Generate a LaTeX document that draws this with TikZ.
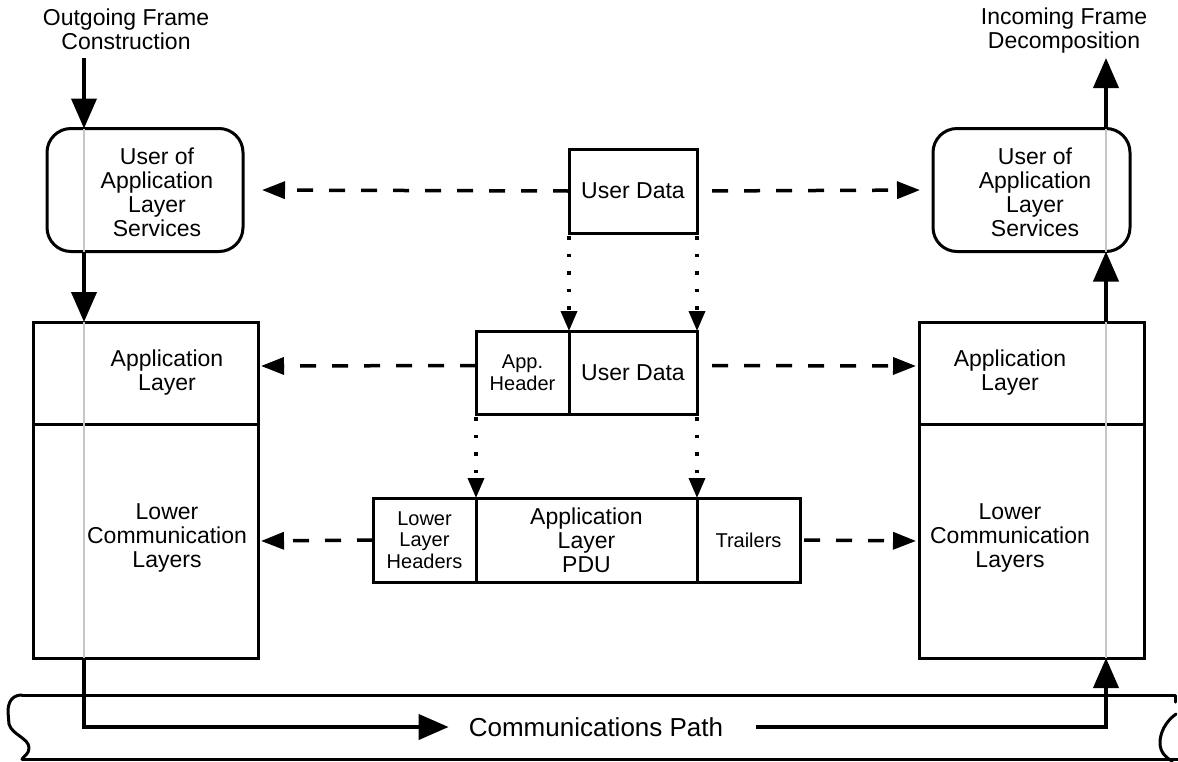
\documentclass[tikz,border=0pt]{standalone}
\usepackage{fontspec}
\setmainfont{Liberation Sans}
\usetikzlibrary{calc,arrows.meta}
\tikzset{
  box/.style={draw, line width=3pt, inner sep=0pt, outer sep=0pt},
  rbox/.style={box, rounded corners=24pt},
  lab/.style={font=\fontsize{23}{24}\selectfont, align=center, inner sep=0pt},
  labs/.style={font=\fontsize{20}{21.5}\selectfont, align=center, inner sep=0pt},
  labl/.style={font=\fontsize{26}{28}\selectfont, inner sep=0pt},
  flow/.style={line width=4pt, -{Triangle[length=30pt,width=25pt]}},
  dasharr/.style={line width=3.5pt, dash pattern=on 16pt off 16pt, -{Triangle[length=23pt,width=17pt]}},
  dotarr/.style={line width=3.5pt, dash pattern=on 3.5pt off 14pt, -{Triangle[length=20pt,width=16pt]}},
  guide/.style={draw=black!22, line width=2pt},
  pipe/.style={line width=3pt, line cap=round, line join=round}
}

\begin{document}
\begin{tikzpicture}[x=1pt,y=-1pt]
  \useasboundingbox (0,0) rectangle (1178,761);
  % end systems
  \node[rbox, minimum width=196pt, minimum height=123pt] (userL) at (145,190) {};
  \node[rbox, minimum width=197pt, minimum height=123pt] (userR) at (1031.5,190) {};
  \node[box, minimum width=225pt, minimum height=102pt] (appL) at (145.5,373) {};
  \node[box, minimum width=225pt, minimum height=234pt, anchor=north] (lowL) at (appL.south) {};
  \node[box, minimum width=225pt, minimum height=102pt] (appR) at (1031.5,373) {};
  \node[box, minimum width=225pt, minimum height=234pt, anchor=north] (lowR) at (appR.south) {};
  \node[lab] (userLt) at (157,192) {User of\\Application\\Layer\\Services};
  \node[lab] (userRt) at (1035,192) {User of\\Application\\Layer\\Services};
  \node[lab] (appLt) at (167,373) {Application\\Layer};
  \node[lab] (appRt) at (1010,373) {Application\\Layer};
  \node[lab] (lowLt) at (167,538) {Lower\\Communication\\Layers};
  \node[lab] (lowRt) at (1010,538) {Lower\\Communication\\Layers};
  \node[lab] (outT) at (126,29) {Outgoing Frame\\Construction};
  \node[lab] (inT) at (1064,31) {Incoming Frame\\Decomposition};

  % encapsulated data
  \node[box, lab, minimum width=128pt, minimum height=84pt] (ud1) at (633,191) {User Data};
  \node[box, labs, minimum width=93pt, minimum height=83pt] (hdr) at (522.5,372.5) {App.\\Header};
  \node[box, lab, minimum width=128pt, minimum height=83pt, anchor=west] (ud2) at (hdr.east) {User Data};
  \node[box, labs, minimum width=103pt, minimum height=84pt] (llh) at (424.5,540) {Lower\\Layer\\Headers};
  \node[box, lab, minimum width=221pt, minimum height=84pt, anchor=west] (pdu) at (llh.east) {Application\\Layer\\PDU};
  \node[box, labs, minimum width=103pt, minimum height=84pt, anchor=west] (trl) at (pdu.east) {Trailers};

  % communications path
  \draw[pipe] (22,695) -- (1175,695) -- (1175,702);
  \draw[pipe] (22,759) -- (1178,759);
  \draw[pipe] (22,695) .. controls (12,695) and (8,702) .. (8,712) -- (9,724)
    .. controls (12,735) and (29,738) .. (29,748) .. controls (29,754) and (24,756) .. (22,759);
  \draw[pipe] (1176,714) .. controls (1165,722) and (1160,733) .. (1160,743)
    .. controls (1160,752) and (1166,758) .. (1172,761);
  \node[labl] (cpath) at (596,727) {Communications Path};

  % guide lines
  \coordinate (inL) at (84,58);
  \coordinate (inR) at (1106,58);
  \draw[guide] (userL.north -| inL) -- (userL.south -| inL);
  \draw[guide] (appL.north -| inL) -- (lowL.south -| inL);
  \draw[guide] (userR.north -| inR) -- (userR.south -| inR);
  \draw[guide] (appR.north -| inR) -- (lowR.south -| inR);

  % frame flow
  \draw[flow] (inL) -- (userL.north -| inL);
  \draw[flow] (userL.south -| inL) -- (appL.north -| inL);
  \draw[flow] (lowL.south -| inL) |- ([xshift=-20pt]cpath.west);
  \draw[flow] ([xshift=33pt]cpath.east) -| (lowR.south -| inR);
  \draw[flow] (appR.north -| inR) -- (userR.south -| inR);
  \draw[flow] (userR.north -| inR) -- (inR);

  % peer relations
  \draw[dasharr, shorten >=19pt] (ud1.west) -- (userL.east);
  \draw[dasharr, shorten <=15pt, shorten >=13pt] (ud1.east) -- (userR.west);
  \draw[dasharr, shorten >=3pt] ([yshift=7pt]hdr.west) -- ([yshift=7pt]appL.east);
  \draw[dasharr, shorten <=15pt, shorten >=3pt] ([yshift=7pt]ud2.east) -- ([yshift=7pt]appR.west);
  \draw[dasharr, shorten >=3pt] (llh.west) -- (lowL.east);
  \draw[dasharr, shorten <=4pt, shorten >=3pt] (trl.east) -- (lowR.west);

  % encapsulation
  \draw[dotarr, shorten <=3pt] (ud1.south west) -- (ud2.north west);
  \draw[dotarr, shorten <=3pt] (ud1.south east) -- (ud2.north east);
  \draw[dotarr, shorten <=3pt] (hdr.south west) -- (pdu.north west);
  \draw[dotarr, shorten <=3pt] (ud2.south east) -- (pdu.north east);
\end{tikzpicture}
\end{document}
